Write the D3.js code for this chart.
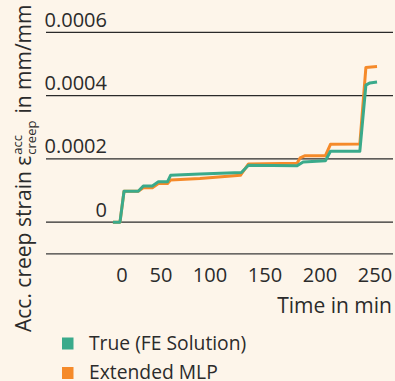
<!DOCTYPE html>
<html>
<head>
<meta charset="utf-8">
<script src="https://cdn.jsdelivr.net/npm/d3@7"></script>
<style>
  body { margin: 0; background: #fdf5ea; }
  svg { display: block; }
  text { font-family: "Open Sans", sans-serif; fill: #2b2b2b; }
</style>
</head>
<body>
<div id="wrapper"></div>
<script>
// data (time in min, strain in mm/mm)
const seriesNames = ["True (FE Solution)", "Extended MLP"]
const seriesColors = ["#3aaa8b", "#f58a2a"]

const trueTime   = [-9, -2, 2, 16, 21, 30, 36, 45, 48, 77, 118, 125, 173, 179, 201, 206, 235, 241, 245, 252]
const trueStrain = [0, 0, 0.0000978, 0.0000978, 0.000114, 0.000114, 0.000128, 0.000128, 0.000148, 0.000152, 0.000157, 0.00018, 0.000178, 0.00019, 0.000194, 0.000224, 0.000224, 0.000433, 0.00044, 0.000443]

const mlpTime   = [-9, -2, 2, 16, 21, 30, 36, 45, 48, 77, 117, 125, 173, 176, 181, 201, 206, 235, 241, 252]
const mlpStrain = [0, 0, 0.0000978, 0.0000978, 0.000109, 0.000109, 0.000122, 0.000122, 0.000133, 0.000138, 0.000148, 0.000184, 0.000186, 0.000203, 0.00021, 0.00021, 0.000246, 0.000247, 0.000489, 0.000492]

const yTicks = [0, 0.0002, 0.0004, 0.0006]
const yTickLabels = ["0", "0.0002", "0.0004", "0.0006"]
const xTicks = [0, 50, 100, 150, 200, 250]

function drawChart() {
  const width = 395
  const height = 381

  const svg = d3.select("#wrapper")
    .append("svg")
      .attr("width", width)
      .attr("height", height)

  svg.append("rect")
    .attr("width", width)
    .attr("height", height)
    .attr("fill", "#fdf5ea")

  // scales
  const xScale = d3.scaleLinear()
    .domain([0, 250])
    .range([122, 375])

  // tick labels in the reference are not evenly spaced
  const xLabelScale = d3.scaleLinear()
    .domain([0, 50, 100, 250])
    .range([122, 161, 210, 375])

  const yScale = d3.scaleLinear()
    .domain([-0.0001, 0.0006])
    .range([253.8, 32.3])

  const gridLeft = 46
  const gridRight = 393

  // grid lines + y labels
  const yAxis = svg.append("g")
  yAxis.selectAll("line")
    .data(yTicks)
    .join("line")
      .attr("x1", gridLeft)
      .attr("x2", gridRight)
      .attr("y1", d => yScale(d))
      .attr("y2", d => yScale(d))
      .attr("stroke", "#2a2a2a")
      .attr("stroke-width", 1.3)

  yAxis.selectAll("text")
    .data(yTicks)
    .join("text")
      .attr("x", 107)
      .attr("y", d => yScale(d) - 5.5)
      .attr("text-anchor", "end")
      .style("font-size", "20px")
      .text((d, i) => yTickLabels[i])

  // bottom line (axis baseline)
  svg.append("line")
    .attr("x1", gridLeft)
    .attr("x2", gridRight)
    .attr("y1", yScale.range()[0])
    .attr("y2", yScale.range()[0])
    .attr("stroke", "#3a3a3a")
    .attr("stroke-width", 1.3)

  // x labels
  svg.append("g")
    .selectAll("text")
    .data(xTicks)
    .join("text")
      .attr("x", d => xLabelScale(d))
      .attr("y", 282)
      .attr("text-anchor", "middle")
      .style("font-size", "20px")
      .text(d => d)

  svg.append("text")
    .attr("x", 392)
    .attr("y", 313)
    .attr("text-anchor", "end")
    .style("font-size", "21px")
    .text("Time in min")

  // lines
  const lineGen = d3.line()
    .x(d => xScale(d[0]))
    .y(d => yScale(d[1]))

  const series = [
    d3.zip(mlpTime, mlpStrain),
    d3.zip(trueTime, trueStrain),
  ]
  const seriesColor = [seriesColors[1], seriesColors[0]]

  svg.append("g")
    .selectAll("path")
    .data(series)
    .join("path")
      .attr("d", lineGen)
      .attr("fill", "none")
      .attr("stroke", (d, i) => seriesColor[i])
      .attr("stroke-width", 3)
      .attr("stroke-linejoin", "round")

  // y axis title
  const title = svg.append("g")
    .attr("transform", "translate(31,332) rotate(-90)")
    .style("font-size", "21px")

  const t1 = title.append("text")
    .attr("x", 0)
    .attr("y", 0)
    .text("Acc. creep strain ε")
  const w1 = t1.node().getComputedTextLength()

  const sup = title.append("text")
    .attr("x", w1 + 1)
    .attr("y", -9)
    .style("font-size", "13px")
    .text("acc")
  const sub = title.append("text")
    .attr("x", w1 + 1)
    .attr("y", 5)
    .style("font-size", "13px")
    .text("creep")
  const w2 = Math.max(sup.node().getComputedTextLength(), sub.node().getComputedTextLength())

  title.append("text")
    .attr("x", w1 + w2 + 8)
    .attr("y", 0)
    .text("in mm/mm")

  // legend
  const legend = svg.append("g")
    .selectAll("g")
    .data(seriesNames)
    .join("g")
      .attr("transform", (d, i) => `translate(62, ${337.5 + i * 29.5})`)

  legend.append("rect")
    .attr("width", 11.5)
    .attr("height", 12)
    .attr("fill", (d, i) => seriesColors[i])

  legend.append("text")
    .attr("x", 27)
    .attr("y", 12)
    .style("font-size", "19.3px")
    .text(d => d)
}

drawChart()
</script>
</body>
</html>
